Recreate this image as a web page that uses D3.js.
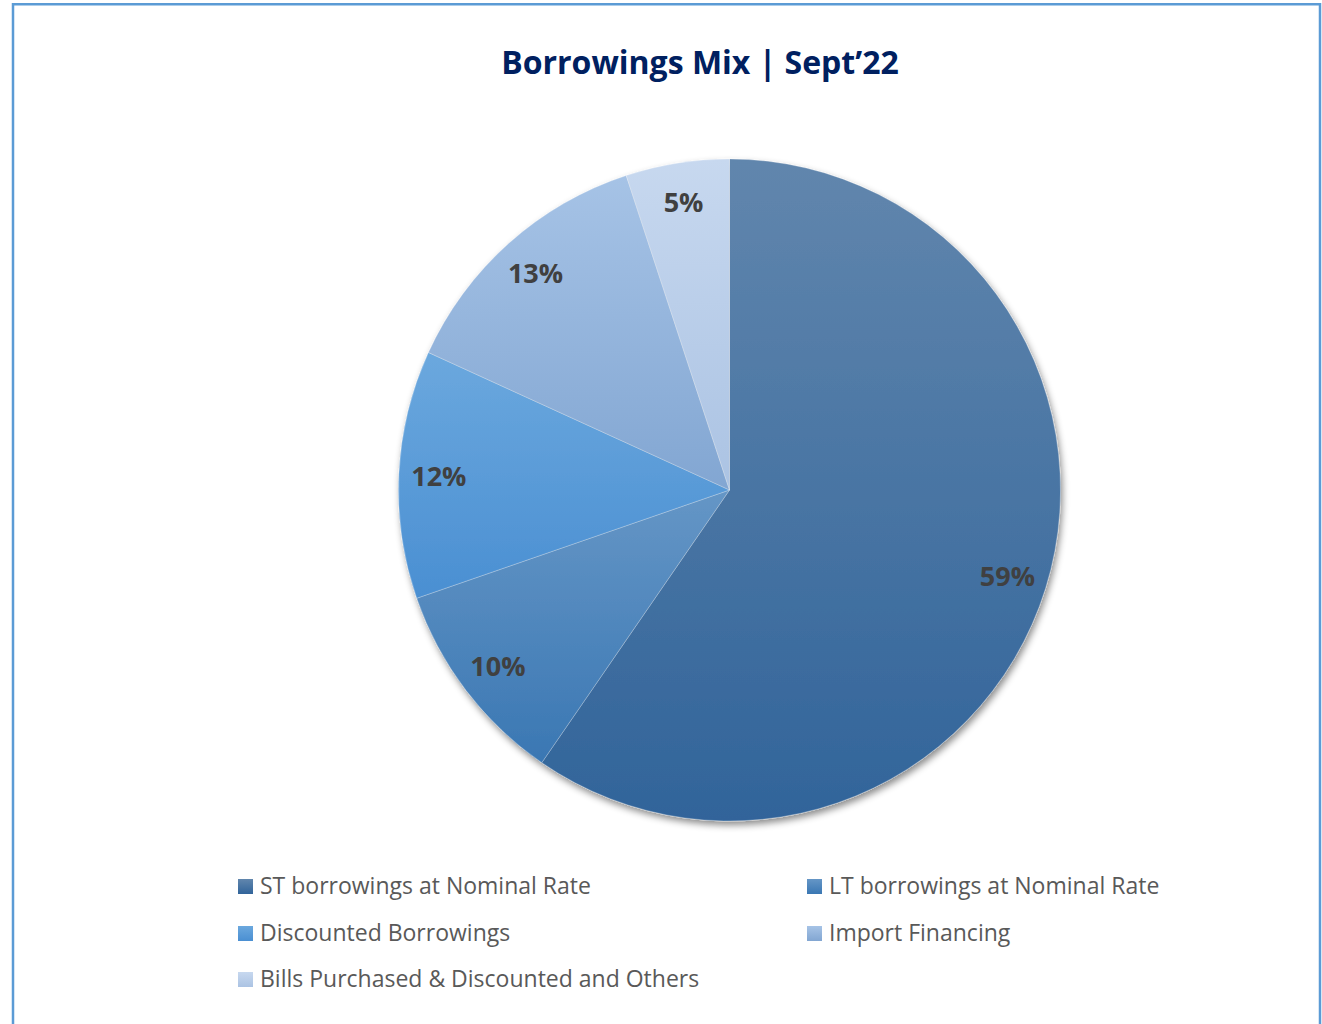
<!DOCTYPE html>
<html>
<head>
<meta charset="utf-8">
<script src="https://cdn.jsdelivr.net/npm/d3@7"></script>
<style>
  html, body { margin: 0; padding: 0; background: #fff; }
  svg { display: block; }
</style>
</head>
<body>
<div id="chart"></div>
<script>
// dati del grafico
const titolo = "Borrowings Mix | Sept\u201922";
const categorie = [
    "ST borrowings at Nominal Rate",
    "LT borrowings at Nominal Rate",
    "Discounted Borrowings",
    "Import Financing",
    "Bills Purchased & Discounted and Others"
];
const valori = [59, 10, 12, 13, 5];
const etichette = ["59%", "10%", "12%", "13%", "5%"];

// colori (gradiente verticale per ogni fetta)
const coloriAlto = ["#6186ad", "#6596c6", "#6ba8de", "#a6c3e6", "#c7d8ef"];
const coloriBasso = ["#31649a", "#3a77b3", "#4a8fd2", "#82a6d2", "#abc3e3"];

const width = 1322, height = 1024;
const cx = 729.5, cy = 490, raggio = 331;

let svg = d3.select("#chart")
    .append("svg")
    .attr("width", width)
    .attr("height", height);

let defs = svg.append("defs");

// ombra della torta
let filtro = defs.append("filter")
    .attr("id", "ombra")
    .attr("x", "-10%").attr("y", "-10%")
    .attr("width", "120%").attr("height", "120%");
filtro.append("feDropShadow")
    .attr("dx", 2).attr("dy", 4)
    .attr("stdDeviation", 3.5)
    .attr("flood-color", "#000")
    .attr("flood-opacity", 0.45);

categorie.forEach((c, i) => {
    let g = defs.append("linearGradient")
        .attr("id", "grad" + i)
        .attr("x1", 0).attr("y1", 0)
        .attr("x2", 0).attr("y2", 1);
    g.append("stop").attr("offset", "0%").attr("stop-color", coloriAlto[i]);
    g.append("stop").attr("offset", "100%").attr("stop-color", coloriBasso[i]);
});

// cornice
svg.append("rect")
    .attr("x", 13)
    .attr("y", 4.25)
    .attr("width", 1307)
    .attr("height", 1040)
    .attr("fill", "none")
    .attr("stroke", "#5b9bd5")
    .attr("stroke-width", 2.5);

// titolo
svg.append("text")
    .attr("x", 700)
    .attr("y", 74)
    .attr("text-anchor", "middle")
    .style("font-family", "'Open Sans', sans-serif")
    .style("font-weight", "bold")
    .style("font-size", "32px")
    .style("fill", "#002060")
    .text(titolo);

// torta
let pie = d3.pie().sort(null).value((d) => d);
let arcs = pie(valori);

let arc = d3.arc().innerRadius(0).outerRadius(raggio);
let arcEtichette = d3.arc().innerRadius(291).outerRadius(291);

let gTorta = svg.append("g")
    .attr("transform", `translate(${cx},${cy})`);

let gFette = gTorta.append("g")
    .attr("filter", "url(#ombra)");

gFette.selectAll("path")
    .data(arcs)
    .enter().append("path")
    .attr("d", arc)
    .attr("fill", (d, i) => `url(#grad${i})`)
    .attr("stroke", "rgba(255,255,255,0.25)")
    .attr("stroke-width", 1);

gTorta.append("g")
    .selectAll("text")
    .data(arcs)
    .enter().append("text")
    .attr("transform", (d) => `translate(${arcEtichette.centroid(d)})`)
    .attr("text-anchor", "middle")
    .attr("dy", "0.36em")
    .style("font-family", "'Open Sans', sans-serif")
    .style("font-weight", "bold")
    .style("font-size", "27px")
    .style("fill", "#404040")
    .text((d, i) => etichette[i]);

// legenda
let colonneX = [238, 807];
let righeY = [886, 933, 979];

let legenda = svg.append("g")
    .selectAll("g")
    .data(categorie)
    .enter().append("g")
    .attr("transform", (d, i) => `translate(${colonneX[i % 2]},${righeY[Math.floor(i / 2)]})`);

legenda.append("rect")
    .attr("x", 0)
    .attr("y", -7)
    .attr("width", 15)
    .attr("height", 15)
    .attr("fill", (d, i) => `url(#grad${i})`);

legenda.append("text")
    .attr("x", 22)
    .attr("y", 0)
    .attr("dy", "0.35em")
    .style("font-family", "'Open Sans', sans-serif")
    .style("font-size", "23px")
    .style("fill", "#595959")
    .text((d) => d);
</script>
</body>
</html>
